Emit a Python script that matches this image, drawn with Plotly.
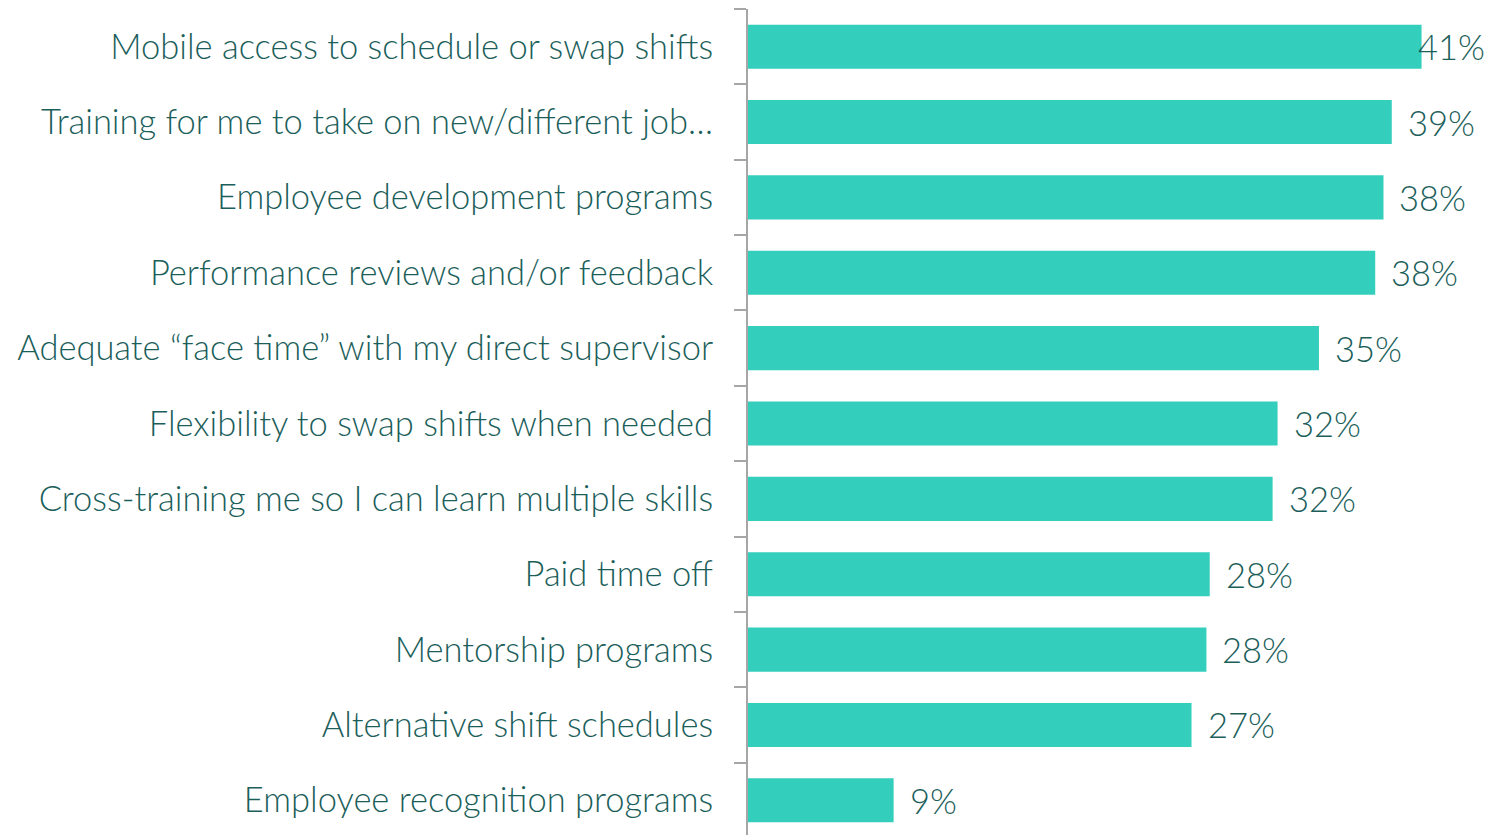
import plotly.graph_objects as go

# ── Data (top to bottom as shown) ─────────────────────────────────────────────
categories = [
    "Mobile access to schedule or swap shifts",
    "Training for me to take on new/different job…",
    "Employee development programs",
    "Performance reviews and/or feedback",
    "Adequate “face time” with my direct supervisor",
    "Flexibility to swap shifts when needed",
    "Cross-training me so I can learn multiple skills",
    "Paid time off",
    "Mentorship programs",
    "Alternative shift schedules",
    "Employee recognition programs",
]
values = [40.7, 38.9, 38.4, 37.9, 34.5, 32.0, 31.7, 27.9, 27.7, 26.8, 8.8]
value_labels = ["41%", "39%", "38%", "38%", "35%", "32%", "32%", "28%", "28%", "27%", "9%"]

# ── Styling ───────────────────────────────────────────────────────────────────
BAR = "#33CEBC"
TEXT = "#1B5E5A"
GREY = "#A6A6A6"
FONT = "Lato"
FSIZE = 34.5

fig = go.Figure(
    go.Bar(
        x=values,
        y=categories,
        orientation="h",
        marker=dict(color=BAR, line=dict(width=0)),
        hoverinfo="skip",
    )
)

# value labels just past each bar end (first one tucked in to fit the page)
for i, (cat, v, lab) in enumerate(zip(categories, values, value_labels)):
    fig.add_annotation(
        x=v, y=cat, xref="x", yref="y",
        text=lab,
        showarrow=False,
        xanchor="left",
        xshift=-6 if i == 0 else 14,
        font=dict(family=FONT, size=FSIZE, color=TEXT, weight=300),
    )

fig.update_yaxes(
    type="category",
    autorange="reversed",
    showline=True, linecolor=GREY, linewidth=2,
    ticks="outside", tickson="boundaries", ticklen=12,
    tickcolor=GREY, tickwidth=2,
    ticklabelstandoff=26,
    tickfont=dict(family=FONT, size=FSIZE, color=TEXT, weight=300),
    showgrid=False, zeroline=False,
)
fig.update_xaxes(
    range=[0, 45.44], visible=False, showgrid=False, zeroline=False,
)

# page body keeps an 8px margin, so the figure is offset to line up with the window
fig.update_layout(
    width=1492, height=830,
    margin=dict(l=740, r=0, t=1, b=0),
    bargap=0.415,
    paper_bgcolor="white",
    plot_bgcolor="white",
    showlegend=False,
    font=dict(family=FONT, color=TEXT),
)

fig.write_html("out.html")
